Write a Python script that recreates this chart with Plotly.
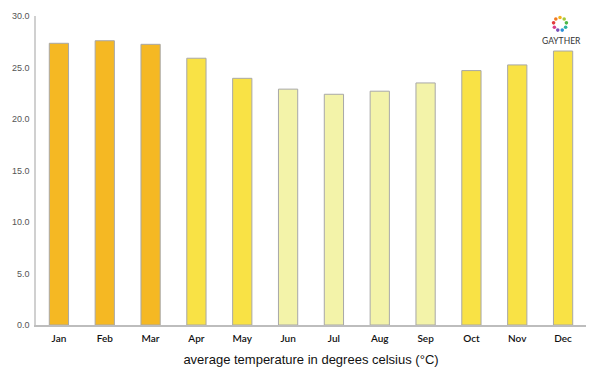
import plotly.graph_objects as go
import math

months = ["Jan", "Feb", "Mar", "Apr", "May", "Jun", "Jul", "Aug", "Sep", "Oct", "Nov", "Dec"]
temps = [27.35, 27.6, 27.25, 25.9, 23.95, 22.9, 22.4, 22.7, 23.5, 24.7, 25.25, 26.6]
seasons = ["hot", "hot", "hot", "warm", "warm", "mild", "mild", "mild", "mild", "warm", "warm", "warm"]
season_colors = {"hot": "#F5B823", "warm": "#F9E245", "mild": "#F3F3A9"}

# page body has an 8px margin; figure positioned accordingly
OFF = 8
L, R, T, B = 36, 586, 16, 325
W, H = 584, 359

fig = go.Figure()
fig.add_trace(go.Bar(
    x=months, y=temps,
    marker=dict(color=[season_colors[s] for s in seasons],
                line=dict(color="#A8A8A8", width=1)),
    width=0.42,
))

fig.update_layout(
    width=W, height=H,
    margin=dict(l=L - OFF, r=W - (R - OFF), t=T - OFF, b=H - (B - OFF), pad=0, autoexpand=False),
    paper_bgcolor="white", plot_bgcolor="white",
    showlegend=False,
    xaxis=dict(showgrid=False, showline=True, linecolor="#BDBDBD", linewidth=1.5,
               ticks="", ticklabelstandoff=3, automargin=False,
               tickfont=dict(family="Lato", size=10, color="#111", weight=600),
               title=dict(text="average temperature in degrees celsius (°C)",
                          font=dict(family="Liberation Sans", size=13, color="#111"),
                          standoff=12)),
    yaxis=dict(range=[0, 30], dtick=5, tickformat=".1f", showgrid=False, automargin=False,
               showline=True, linecolor="#D0D0D0", linewidth=1.5, zeroline=False,
               ticks="", ticklabelstandoff=3,
               tickfont=dict(family="Liberation Sans", size=9, color="#555")),
)

# logo
pw, ph = R - L, B - T
def px(x):
    return (x - L) / pw
def py(y):
    return (B - y) / ph

logo_colors = ["#F5B21E", "#A6C93A", "#4CB848", "#2BB3A0", "#2A8FD8", "#7A4FB8", "#D8408C", "#E23B3B", "#F07A22"]
cx, cy, rr = 560, 24, 6.5
for i, c in enumerate(logo_colors):
    a = 2 * math.pi * i / len(logo_colors) - math.pi / 2
    x = cx + rr * math.cos(a)
    y = cy + rr * math.sin(a)
    fig.add_shape(type="circle", xref="paper", yref="paper",
                  x0=px(x - 1.8), x1=px(x + 1.8), y0=py(y + 1.8), y1=py(y - 1.8),
                  fillcolor=c, line=dict(width=0))
fig.add_annotation(text="GAYTHER", xref="paper", yref="paper",
                   x=px(561), y=py(41), xanchor="center", yanchor="middle", showarrow=False,
                   font=dict(family="Lato", size=8.5, color="#333"))

fig.write_html("out.html")
